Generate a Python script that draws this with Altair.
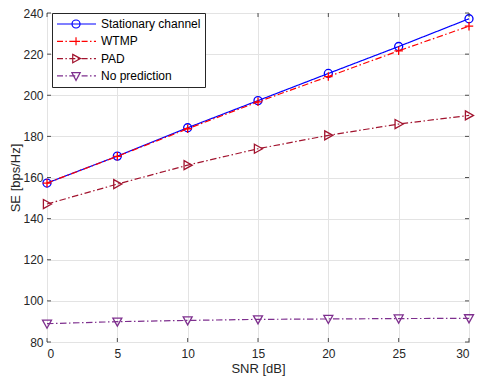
import altair as alt
import pandas as pd

snr = [0, 5, 10, 15, 20, 25, 30]
stationary = [157.3, 170.4, 184.2, 197.4, 210.6, 223.7, 237.2]
wtmp = [157.3, 170.3, 183.7, 196.8, 209.1, 221.6, 233.6]
pad = [147.1, 156.8, 166.0, 174.0, 180.5, 186.0, 190.2]
nopred = [88.9, 89.9, 90.5, 91.0, 91.2, 91.4, 91.5]

names = ["Stationary channel", "WTMP", "PAD", "No prediction"]
colors = ["#0000FF", "#FF0000", "#A2142F", "#7E2F8E"]
dashes = [[1, 0], [6.5, 2.5, 1.5, 2.5], [6.5, 2.5, 1.5, 2.5], [6.5, 2.5, 1.5, 2.5]]
xticks = [0, 5, 10, 15, 20, 25, 30]
yticks = [80, 100, 120, 140, 160, 180, 200, 220, 240]

# marker shapes ([-1,1] spans sqrt(size) px)
circle = "M1,0A1,1 0 1,1 -1,0A1,1 0 1,1 1,0Z"
plus = "M-1,0L1,0M0,-1L0,1"
tri_r = "M-0.8,-1L1,0L-0.8,1Z"
tri_d = "M-1,-0.8L1,-0.8L0,1Z"
markers = [circle, plus, tri_r, tri_d]
msizes = [64, 72, 81, 81]


# legend symbols: unit = 6 px (symbolSize 144), line spans -1..5.5, marker at 2.17
def seg_line(dashed, x0=-1.0, x1=5.5):
    if not dashed:
        return "M%.3f,0L%.3f,0" % (x0, x1)
    pat = [(1.0, True), (0.4, False), (0.25, True), (0.4, False)]
    out, x, k = [], x0, 0
    while x < x1:
        ln, draw = pat[k % 4]
        e = min(x + ln, x1)
        if draw:
            out.append("M%.3f,0L%.3f,0" % (x, e))
        x = e
        k += 1
    return "".join(out)


cx, r = 2.17, 0.67
lg_markers = [
    "M%.3f,0A%.3f,%.3f 0 1,1 %.3f,0A%.3f,%.3f 0 1,1 %.3f,0Z" % (cx + r, r, r, cx - r, r, r, cx + r),
    "M%.3f,0L%.3f,0M%.3f,%.3fL%.3f,%.3f" % (cx - r, cx + r, cx, -r, cx, r),
    "M%.3f,%.3fL%.3f,0L%.3f,%.3fZ" % (cx - 0.55, -0.7, cx + 0.75, cx - 0.55, 0.7),
    "M%.3f,%.3fL%.3f,%.3fL%.3f,%.3fZ" % (cx - 0.7, -0.55, cx + 0.7, -0.55, cx, 0.75),
]
lg_shapes = [seg_line(i > 0) + m for i, m in enumerate(lg_markers)]

rows = []
for name, vals in zip(names, [stationary, wtmp, pad, nopred]):
    for x, v in zip(snr, vals):
        rows.append({"snr": x, "se": v, "series": name})
df = pd.DataFrame(rows)

W, H = 422, 329
font = "Liberation Sans"
tc = "#262626"

xs = alt.Scale(domain=[0, 30], nice=False)
ys = alt.Scale(domain=[80, 240], nice=False)
cs = alt.Scale(domain=names, range=colors)

base = alt.Chart(df)

layers = []
for i, (name, col, dsh, mk, sz) in enumerate(zip(names, colors, dashes, markers, msizes)):
    sub = base.transform_filter(alt.datum.series == name)
    if i == 0:
        xenc = alt.X("snr:Q", scale=xs, axis=alt.Axis(values=xticks, title="SNR [dB]", grid=True))
        yenc = alt.Y("se:Q", scale=ys, axis=alt.Axis(values=yticks, title="SE [bps/Hz]", grid=True))
    else:
        xenc = alt.X("snr:Q", scale=xs)
        yenc = alt.Y("se:Q", scale=ys)
    layers.append(sub.mark_line(strokeWidth=1.2, color=col, strokeDash=dsh).encode(x=xenc, y=yenc))
    layers.append(
        sub.mark_point(filled=False, strokeWidth=1.3, opacity=1, color=col, shape=mk, size=sz).encode(
            x=alt.X("snr:Q", scale=xs), y=alt.Y("se:Q", scale=ys)
        )
    )

leg = alt.Legend(
    title=None,
    orient="none",
    legendX=5,
    legendY=0,
    symbolSize=144,
    symbolStrokeWidth=1.2,
    symbolFillColor="transparent",
    symbolOpacity=1,
    labelFont=font,
    labelFontSize=12,
    labelColor="#000000",
    labelOffset=31,
    labelLimit=300,
    rowPadding=3.3,
    padding=4,
    strokeColor=tc,
    fillColor="white",
    cornerRadius=0,
    symbolOffset=0,
)

lgdf = pd.DataFrame({"lg": names, "snr": [0] * 4, "se": [80] * 4})
legend_layer = alt.Chart(lgdf).mark_point(opacity=0, filled=False).encode(
    x=alt.X("snr:Q", scale=xs),
    y=alt.Y("se:Q", scale=ys),
    shape=alt.Shape("lg:N", scale=alt.Scale(domain=names, range=lg_shapes), sort=names, legend=leg),
    color=alt.Color("lg:N", scale=cs, sort=names, legend=leg),
)

xt = pd.DataFrame({"t": xticks})
yt = pd.DataFrame({"t": yticks})
tick_b = alt.Chart(xt).mark_rule(color=tc, strokeWidth=0.8).encode(
    x=alt.X("t:Q", scale=xs), y=alt.value(H), y2=alt.value(H - 4))
tick_t = alt.Chart(xt).mark_rule(color=tc, strokeWidth=0.8).encode(
    x=alt.X("t:Q", scale=xs), y=alt.value(0), y2=alt.value(4))
tick_l = alt.Chart(yt).mark_rule(color=tc, strokeWidth=0.8).encode(
    y=alt.Y("t:Q", scale=ys), x=alt.value(0), x2=alt.value(4))
tick_r = alt.Chart(yt).mark_rule(color=tc, strokeWidth=0.8).encode(
    y=alt.Y("t:Q", scale=ys), x=alt.value(W), x2=alt.value(W - 4))

chart = alt.layer(*layers, legend_layer, tick_b, tick_t, tick_l, tick_r).properties(
    width=W,
    height=H,
    autosize=alt.AutoSizeParams(type="none"),
    padding={"left": 39, "top": 5, "right": 7, "bottom": 36},
).configure_view(
    stroke=tc, strokeWidth=1
).configure_axis(
    labelFont=font,
    titleFont=font,
    labelFontSize=12,
    titleFontSize=13,
    labelColor=tc,
    titleColor=tc,
    titleFontWeight="normal",
    domain=False,
    ticks=False,
    gridColor="#e3e3e3",
    gridWidth=1,
).configure_axisX(
    labelPadding=6, titlePadding=3
).configure_axisY(
    labelPadding=4, titlePadding=0
)

chart.save("out.html", embed_options={"renderer": "svg", "actions": False})
